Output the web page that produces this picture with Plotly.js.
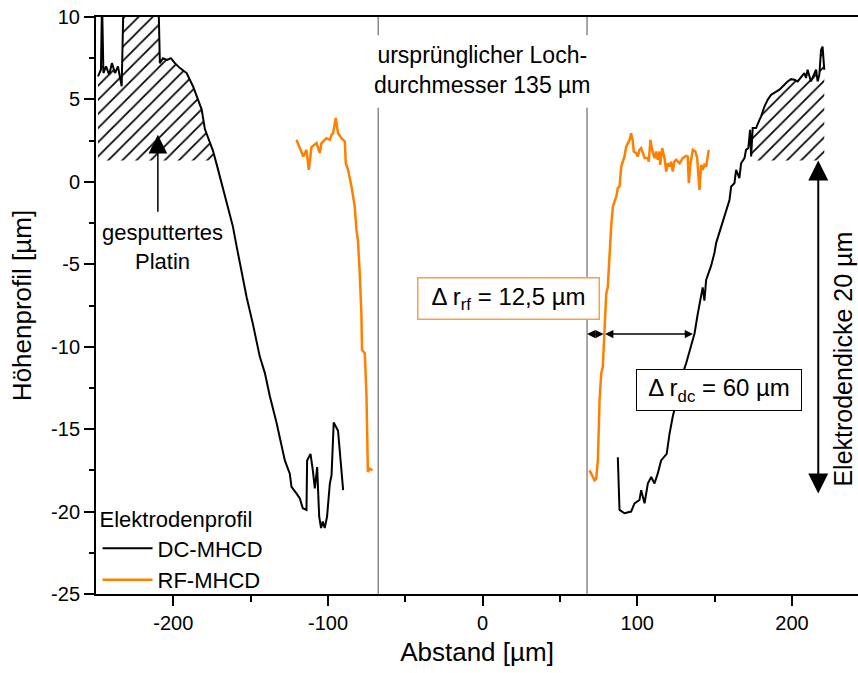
<!DOCTYPE html>
<html>
<head>
<meta charset="utf-8">
<script src="https://cdn.plot.ly/plotly-3.0.1.min.js"></script>
<style>html,body{margin:0;padding:0;background:#fff;}#chart{width:858px;height:673px;}</style>
</head>
<body>
<div id="chart"></div>
<script>
// DC-MHCD profile, left flank
var dcLeftX = [-248.7, -246.8, -246.1, -245.2, -243.5, -241.5, -239.7, -237.7, -235.8, -233.4, -232.2, -228, -220, -212, -209.6, -208.7, -206.7, -204.1, -201.6, -199, -195.7, -191.4, -187.3, -184.1, -181.7, -179.6, -177, -174.4, -171.8, -169.9, -165.6, -161.5, -159.1, -157, -152.6, -148.6, -144.1, -140.8, -137.6, -133.3, -130, -127.9, -124.7, -123.6, -120.4, -118.2, -116.3, -113.9, -113.5, -111.3, -109.8, -108.5, -107, -105.7, -104.5, -103.4, -102.1, -100.6, -98.8, -97.7, -96.3, -93.5, -90.2];
var dcLeftY = [6.4, 6.8, 11, 6.6, 7.0, 6.5, 7.2, 6.6, 7.0, 5.8, 11, 14, 13, 14, 11, 7.2, 7.5, 7.4, 7.5, 7.2, 6.9, 6.6, 5.8, 5.0, 4.4, 3.2, 2.5, 1.9, 1.0, 0.3, -1.1, -2.7, -3.9, -4.9, -7.0, -8.6, -10.6, -11.6, -13.0, -14.6, -16.1, -16.9, -17.7, -18.5, -18.9, -19.2, -19.8, -19.9, -16.9, -16.5, -17.5, -18.6, -17.3, -20.3, -21.0, -20.6, -21.0, -20.3, -18.3, -17.8, -14.6, -15.1, -18.7];
// DC-MHCD profile, right flank
var dcRightX = [87.4, 88.5, 91.7, 96, 98.2, 101.4, 102.5, 104.7, 106.8, 109, 111.1, 113.2, 115.4, 119, 120.8, 122.9, 125.1, 127.3, 131.6, 134.8, 137, 139.1, 141.3, 142.3, 143.4, 144.5, 147.7, 149.9, 151, 154.2, 157.4, 159.6, 160.7, 162.8, 163.9, 166, 167.1, 169.3, 170.3, 171.8, 172.9, 173.6, 174.6, 176.8, 179, 180, 182.2, 184.3, 186.5, 188.6, 191.9, 195.1, 197.2, 199.4, 201.6, 203.7, 205.9, 208, 209.1, 210.1, 212.3, 214.5, 215.6, 216.6, 217.7, 218.8, 219.8, 220.9];
var dcRightY = [-16.7, -19.9, -20.1, -20.0, -19.5, -19.3, -18.7, -19.5, -18.3, -17.9, -18.3, -17.7, -16.9, -16.5, -15.3, -14.25, -13.4, -12.2, -11.0, -10.0, -9.2, -8.0, -6.8, -6.4, -7.2, -5.95, -5.1, -4.3, -3.7, -2.7, -1.7, -1.1, -0.28, -0.08, 0.73, 0.22, 1.13, 1.44, 1.94, 2.05, 3.16, 1.54, 3.26, 3.26, 3.76, 3.96, 4.57, 4.98, 5.28, 5.39, 5.59, 5.89, 6.09, 6.23, 6.19, 6.09, 6.39, 6.6, 6.3, 6.8, 6.09, 6.6, 6.8, 6.09, 6.5, 8.0, 8.2, 6.8];
// RF-MHCD profile, left flank
var rfLeftX = [-120.4, -116, -113.9, -112.4, -110.7, -107.4, -105.3, -104.2, -101, -98.8, -97.7, -96.7, -95, -93.5, -91.3, -89.1, -88.5, -87, -84.8, -82.7, -81.6, -80.6, -79.5, -78.4, -78, -76.2, -75.1, -74.3, -74.2, -73, -71.3];
var rfLeftY = [2.55, 1.54, 1.94, 0.73, 2.1, 2.35, 1.75, 2.35, 2.65, 2.55, 2.85, 2.95, 3.87, 2.95, 2.65, 2.45, 1.13, 0.73, -0.28, -1.5, -2.9, -3.6, -5.5, -7.96, -10.2, -10.4, -13.0, -16.9, -17.6, -17.4, -17.5];
// RF-MHCD profile, right flank
var rfRightX = [69.1, 71.3, 72.4, 73.4, 74.5, 75.6, 76.7, 77.7, 78.8, 79.9, 80.9, 82, 83.1, 84.2, 86.4, 87.4, 88.5, 89.6, 90.6, 91.7, 92.8, 93.9, 95, 96, 97.1, 97.7, 99.3, 100.3, 101.4, 102.5, 103.6, 104.7, 106.8, 107.4, 108.5, 109.6, 111.1, 112.2, 113.2, 114.3, 114.8, 116.1, 117.6, 118.7, 119.7, 120.8, 121.9, 122.9, 124, 125.1, 127.3, 129.4, 131.6, 132.6, 133.3, 134.4, 135.9, 137.6, 138.7, 140.2, 141.3, 142.3, 143.4, 144.5, 146.2];
var rfRightY = [-17.5, -17.9, -18.1, -18.0, -16.9, -13.2, -11.6, -11.2, -9.2, -6.8, -6.4, -4.1, -2.7, -1.5, -0.9, -0.38, -0.28, 0.93, 1.23, 1.54, 2.14, 2.35, 2.55, 2.95, 2.45, 1.84, 1.74, 1.54, 1.94, 2.05, 1.74, 1.44, 1.44, 1.23, 2.55, 1.94, 1.44, 1.84, 1.34, 1.84, 1.03, 2.05, 1.44, 0.63, 1.13, 0.93, 1.23, 0.63, 1.23, 1.34, 1.13, 1.44, 1.58, 1.54, -0.08, 1.13, 1.94, 1.84, 1.44, -0.49, 1.03, 0.73, 1.03, 0.93, 1.94];

// Axis ticks
var xTickVals = [-200, -100, 0, 100, 200];
var xTickText = ['-200', '-100', '0', '100', '200'];
var yTickVals = [-25, -20, -15, -10, -5, 0, 5, 10];
var yTickText = ['-25', '-20', '-15', '-10', '-5', '0', '5', '10'];

// Annotation parameters
var holeRadius = 67.5;     // 135 µm / 2
var platinBase = 1.3;      // lower edge of the sputtered platinum (hatched)
var hatchRanges = [[-248.7, -173], [173.6, 220.9]];
var electrodeTop = 1.3, electrodeBottom = -19.0;

var FONT = '"Liberation Sans", Arial, sans-serif';
var ORANGE = '#ff8000';

function joinSeg(a, b) { return a.concat([null], b); }

function hatchPolygon(xs, ys, range, base, top) {
  var px = [range[0]], py = [base];
  for (var i = 0; i < xs.length; i++) {
    if (xs[i] >= range[0] && xs[i] <= range[1]) {
      px.push(xs[i]);
      py.push(Math.min(Math.max(ys[i], base), top));
    }
  }
  px.push(range[1]); py.push(base);
  px.push(range[0]); py.push(base);
  return {x: px, y: py};
}

var dcAllX = dcLeftX.concat(dcRightX), dcAllY = dcLeftY.concat(dcRightY);
var traces = [];
hatchRanges.forEach(function (r) {
  var p = hatchPolygon(dcAllX, dcAllY, r, platinBase, 10);
  traces.push({
    x: p.x, y: p.y, type: 'scatter', mode: 'lines', fill: 'toself',
    line: {width: 0, color: 'rgba(0,0,0,0)'},
    fillcolor: 'rgba(0,0,0,0)',
    fillpattern: {shape: '/', fgcolor: '#000', bgcolor: 'rgba(0,0,0,0)', size: 10, solidity: 0.17},
    showlegend: false, hoverinfo: 'skip'
  });
});
traces.push({
  x: joinSeg(dcLeftX, dcRightX), y: joinSeg(dcLeftY, dcRightY),
  type: 'scatter', mode: 'lines', name: 'DC-MHCD',
  line: {color: '#000', width: 2}, connectgaps: false
});
traces.push({
  x: joinSeg(rfLeftX, rfRightX), y: joinSeg(rfLeftY, rfRightY),
  type: 'scatter', mode: 'lines', name: 'RF-MHCD',
  line: {color: ORANGE, width: 2.5}, connectgaps: false
});

var grayLine = {color: '#8a8a8a', width: 1.5};
var shapes = [];
[-holeRadius, holeRadius].forEach(function (xv) {
  shapes.push({type: 'line', xref: 'x', yref: 'y', x0: xv, x1: xv, y0: -25, y1: 4.5, line: grayLine, layer: 'below'});
  shapes.push({type: 'line', xref: 'x', yref: 'y', x0: xv, x1: xv, y0: 8.9, y1: 10, line: grayLine, layer: 'below'});
});

function arrow(x, y, ax, ay, opts) {
  var a = {x: x, y: y, ax: ax, ay: ay, xref: 'x', yref: 'y', axref: 'x', ayref: 'y',
    text: '', showarrow: true, arrowcolor: '#000', arrowhead: 2, arrowsize: 1, arrowwidth: 1.5,
    standoff: 0, startstandoff: 0};
  for (var k in opts) a[k] = opts[k];
  return a;
}

var annotations = [
  {x: 0, y: 6.76, xref: 'x', yref: 'y', text: 'ursprünglicher Loch-<br>durchmesser 135 µm',
   showarrow: false, font: {family: FONT, size: 23, color: '#000'}, align: 'center'},
  {x: -206.9, y: -3.97, xref: 'x', yref: 'y', text: 'gesputtertes<br>Platin',
   showarrow: false, font: {family: FONT, size: 22, color: '#000'}, align: 'center'},
  arrow(-210, 2.85, -210, -1.9, {arrowhead: 2, arrowsize: 2.5, arrowwidth: 1.5}),
  arrow(holeRadius, -9.23, 79.2, -9.23, {arrowside: 'end+start', arrowsize: 1.1}),
  arrow(79.2, -9.23, 137, -9.23, {arrowside: 'end+start', arrowsize: 1.1}),
  arrow(217, electrodeTop, 217, electrodeBottom, {arrowside: 'end+start', arrowsize: 2, arrowwidth: 2}),
  {x: 232.9, y: -10.73, xref: 'x', yref: 'y', text: 'Elektrodendicke 20 µm', textangle: -90,
   showarrow: false, font: {family: FONT, size: 25, color: '#000'}},
  {x: 16.4, y: -7.1, xref: 'x', yref: 'y', text: 'Δ r<sub>rf</sub> = 12,5 µm',
   showarrow: false, font: {family: FONT, size: 24, color: '#000'},
   bordercolor: '#f7a044', borderwidth: 1.5, borderpad: 1, bgcolor: '#fff', width: 178, height: 38},
  {x: 153.1, y: -12.64, xref: 'x', yref: 'y', text: 'Δ r<sub>dc</sub> = 60 µm',
   showarrow: false, font: {family: FONT, size: 24, color: '#000'},
   bordercolor: '#000', borderwidth: 1, borderpad: 1, bgcolor: '#fff', width: 162, height: 38}
];

var layout = {
  width: 858, height: 673,
  margin: {l: 96, r: 0, t: 17, b: 79},
  paper_bgcolor: '#fff', plot_bgcolor: '#fff',
  font: {family: FONT, size: 20, color: '#000'},
  showlegend: true,
  legend: {x: 0.002, xanchor: 'left', y: 0.165, yanchor: 'top', bgcolor: 'rgba(0,0,0,0)',
    font: {family: FONT, size: 22, color: '#000'},
    title: {text: 'Elektrodenprofil', font: {family: FONT, size: 22, color: '#000'}},
    tracegroupgap: 0, itemwidth: 50},
  xaxis: {range: [-250, 242.7], showgrid: false, zeroline: false,
    showline: true, linecolor: '#000', linewidth: 2, mirror: true,
    ticks: 'outside', ticklen: 10, tickwidth: 2, tickcolor: '#000',
    tickvals: xTickVals, ticktext: xTickText, tickfont: {family: FONT, size: 20},
    minor: {tickvals: [-150, -50, 50, 150], ticks: 'outside', ticklen: 6, tickwidth: 2, tickcolor: '#000', showgrid: false},
    title: {text: 'Abstand [µm]', font: {family: FONT, size: 26}, standoff: 10}},
  yaxis: {range: [-25, 10], showgrid: false, zeroline: false,
    showline: true, linecolor: '#000', linewidth: 2,
    ticks: 'outside', ticklen: 10, tickwidth: 2, tickcolor: '#000',
    tickvals: yTickVals, ticktext: yTickText, tickfont: {family: FONT, size: 20},
    minor: {tickvals: [-22.5, -17.5, -12.5, -7.5, -2.5, 2.5, 7.5], ticks: 'outside', ticklen: 5, tickwidth: 2, tickcolor: '#000', showgrid: false},
    title: {text: 'Höhenprofil [µm]', font: {family: FONT, size: 26}, standoff: 12}},
  shapes: shapes,
  annotations: annotations
};

Plotly.newPlot('chart', traces, layout, {displayModeBar: false, staticPlot: true});
</script>
</body>
</html>
